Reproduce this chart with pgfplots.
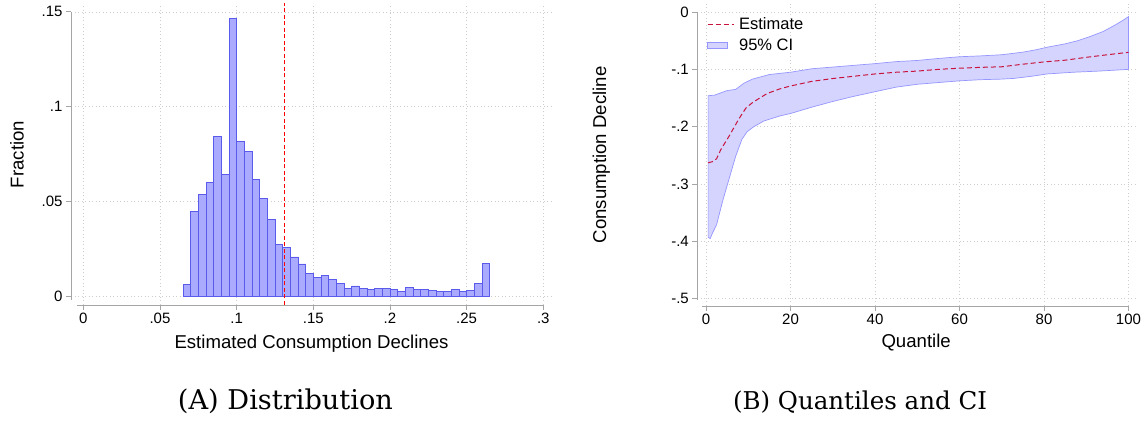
\documentclass[border=0pt]{standalone}
\usepackage{fontspec}
\setmainfont{Liberation Sans}
\newfontfamily\capfont{DejaVu Serif}
\usepackage{pgfplots}
\pgfplotsset{compat=1.18}

\definecolor{histfill}{RGB}{170,170,255}
\definecolor{histedge}{RGB}{90,90,235}
\definecolor{cifill}{RGB}{212,212,255}
\definecolor{ciedge}{RGB}{150,150,255}
\definecolor{estcol}{RGB}{200,20,60}
\definecolor{axisgray}{RGB}{165,165,165}
\definecolor{gridgray}{RGB}{205,205,205}

\pgfplotsset{
  stata/.style={
    scale only axis, clip=false,
    axis line style={draw=none},
    xtick pos=bottom, ytick pos=left,
    tick align=outside, major tick length=5bp,
    tick style={draw=axisgray, line width=0.9bp},
    grid=major,
    major grid style={draw=gridgray, dash pattern=on 1bp off 2.5bp, line width=0.7bp},
    tick label style={font=\fontsize{15bp}{18bp}\selectfont, text=black},
    label style={font=\fontsize{18.6bp}{22bp}\selectfont},
    /pgf/number format/assume math mode=true,
  },
  lineleg/.style={legend image code/.code={\draw[##1] (0bp,0bp) -- (26bp,0bp);}},
  boxleg/.style={legend image code/.code={\draw[##1] (0bp,-3bp) rectangle (20bp,3bp);}},
}

\begin{document}
\begin{tikzpicture}
\useasboundingbox (0,0) rectangle (1145bp,426bp);

% ---- (A) histogram
\begin{axis}[stata,
  at={(71bp,121bp)}, anchor=south west,
  width=481bp, height=301bp,
  xmin=-0.00802, xmax=0.30568,
  ymin=-0.00475, ymax=0.15417,
  xtick={0,0.05,0.1,0.15,0.2,0.25,0.3},
  xticklabels={0,.05,.1,.15,.2,.25,.3},
  ytick={0,0.05,0.1,0.15},
  yticklabels={0,.05,.1,.15},
  xlabel={Estimated Consumption Declines},
  ylabel={Fraction},
  xlabel style={at={(axis description cs:0.5,-0.1429)}, anchor=base},
  ylabel style={at={(axis description cs:-0.1123,0.5)}, anchor=center},
]
\addplot[ybar interval, fill=histfill, draw=histedge, line width=0.9bp] coordinates {
(0.0652,0.0060) (0.0702,0.0448) (0.0752,0.0538) (0.0802,0.0601) (0.0852,0.0844)
(0.0902,0.0643) (0.0952,0.1465) (0.1002,0.0818) (0.1052,0.0763) (0.1102,0.0617)
(0.1152,0.0516) (0.1202,0.0405) (0.1252,0.0270) (0.1302,0.0258) (0.1352,0.0206)
(0.1402,0.0169) (0.1452,0.0120) (0.1502,0.0096) (0.1552,0.0106) (0.1602,0.0085)
(0.1652,0.0068) (0.1702,0.0040) (0.1752,0.0053) (0.1802,0.0042) (0.1852,0.0033)
(0.1902,0.0039) (0.1952,0.0039) (0.2002,0.0033) (0.2052,0.0023) (0.2102,0.0044)
(0.2152,0.0035) (0.2202,0.0035) (0.2252,0.0030) (0.2302,0.0023) (0.2352,0.0023)
(0.2402,0.0035) (0.2452,0.0023) (0.2502,0.0030) (0.2552,0.0065) (0.2602,0.0171)
(0.2652,0.0171)
};
\addplot[red, line width=1.4bp, dash pattern=on 4bp off 2.5bp] coordinates {(0.1314,-0.00475) (0.1314,0.1545)};
\draw[axisgray, line width=0.9bp] (axis cs:-0.00802,-0.002) -- (axis cs:-0.00802,0.15);
\draw[axisgray, line width=0.9bp] (axis cs:-0.004,-0.00475) -- (axis cs:0.3,-0.00475);
\end{axis}

% ---- (B) quantiles and CI
\begin{axis}[stata,
  at={(697.3bp,120bp)}, anchor=south west,
  width=437.7bp, height=302bp,
  xmin=-2.06, xmax=101.54,
  ymin=-0.5127, ymax=0.014,
  xtick={0,20,40,60,80,100},
  xticklabels={0,20,40,60,80,100},
  ytick={-0.5,-0.4,-0.3,-0.2,-0.1,0},
  yticklabels={-.5,-.4,-.3,-.2,-.1,0},
  xlabel={Quantile},
  ylabel={Consumption Decline},
  xlabel style={at={(axis description cs:0.5,-0.139)}, anchor=base},
  ylabel style={at={(axis description cs:-0.2193,0.5)}, anchor=center},
  legend cell align=left,
  legend style={at={(rel axis cs:0.022,0.962)}, anchor=north west, draw=none, fill=none,
    inner sep=0pt, row sep=4bp, font=\fontsize{16.5bp}{19bp}\selectfont,
    /tikz/every odd column/.append style={column sep=3bp}},
]
\addlegendimage{estcol, line width=1bp, dash pattern=on 5bp off 3bp, lineleg}
\addlegendentry{Estimate}
\addlegendimage{fill=cifill, draw=ciedge, line width=0.7bp, boxleg}
\addlegendentry{95\% CI}

\addplot[forget plot, fill=cifill, draw=ciedge, line width=0.7bp] coordinates {
(0.5,-0.146) (2,-0.145) (5,-0.137) (7,-0.135) (9,-0.124) (11,-0.117) (15,-0.109)
(20,-0.105) (25,-0.099) (30,-0.096) (35,-0.093) (40,-0.090) (45,-0.0865) (50,-0.0845)
(55,-0.081) (60,-0.078) (65,-0.0765) (70,-0.0745) (75,-0.070) (78,-0.066) (81,-0.061)
(85,-0.0555) (88,-0.050) (91,-0.0425) (94,-0.034) (97,-0.022) (99,-0.013) (100,-0.008)
(100,-0.100) (93,-0.103) (87,-0.105) (80.7,-0.108) (77.5,-0.1116) (73,-0.1157)
(70,-0.117) (65,-0.118) (60,-0.120) (55,-0.123) (50,-0.126) (45,-0.131) (40,-0.139)
(35,-0.147) (30,-0.156) (25,-0.166) (20,-0.177) (17.6,-0.181) (13.7,-0.190)
(11.3,-0.200) (9.7,-0.209) (8.5,-0.222) (7,-0.252) (5.5,-0.290) (4,-0.328)
(2.5,-0.371) (1.5,-0.386) (1,-0.395) (0.5,-0.393)
} -- cycle;
\addplot[forget plot, estcol, line width=1bp, dash pattern=on 5bp off 3bp] coordinates {
(0.5,-0.263) (1.5,-0.261) (2.5,-0.256) (3.5,-0.240) (4.5,-0.228) (5.5,-0.216)
(6.5,-0.203) (7.5,-0.190) (8.5,-0.178) (9.5,-0.167) (11,-0.158) (12.5,-0.151)
(14.5,-0.142) (17.5,-0.134) (20,-0.129) (25,-0.121) (30,-0.116) (35,-0.112)
(40,-0.108) (45,-0.105) (50,-0.103) (55,-0.100) (60,-0.098) (65,-0.0965)
(70,-0.0955) (75,-0.091) (80,-0.087) (85,-0.084) (90,-0.079) (95,-0.0745) (100,-0.0703)
};
\draw[axisgray, line width=0.9bp] (axis cs:-2.06,-0.503) -- (axis cs:-2.06,0);
\draw[axisgray, line width=0.9bp] (axis cs:-1,-0.5127) -- (axis cs:100,-0.5127);
\end{axis}

% ---- panel captions
\node[anchor=base, inner sep=0pt] at (285.5bp,16bp) {\resizebox{215bp}{!}{\capfont (A) Distribution}};
\node[anchor=base, inner sep=0pt] at (860bp,16bp) {\resizebox{254bp}{!}{\capfont (B) Quantiles and CI}};
\end{tikzpicture}
\end{document}
